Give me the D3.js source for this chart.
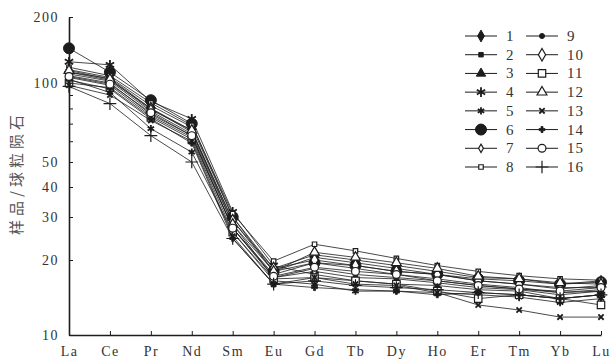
<!DOCTYPE html>
<html>
<head>
<meta charset="utf-8">
<script src="https://cdn.jsdelivr.net/npm/d3@7"></script>
<style>
  body { margin: 0; background: #fff; }
  svg { display: block; }
</style>
</head>
<body>
<div id="chart"></div>
<script>
// REE elements on the x axis
const elements = ["La", "Ce", "Pr", "Nd", "Sm", "Eu", "Gd", "Tb", "Dy", "Ho", "Er", "Tm", "Yb", "Lu"];

// chondrite-normalised values, one array per sample
const s1  = [112, 105, 80, 66, 29, 18, 20.5, 19.5, 18.5, 17.5, 16.5, 16, 15.5, 15.5];
const s2  = [108, 100, 76, 63, 27, 17.5, 19.5, 18.5, 17.5, 16.8, 16, 15.5, 14.8, 15];
const s3  = [115, 106, 82, 68, 30, 18.5, 21, 20, 19, 18, 17, 16.8, 16, 16.5];
const s4  = [125, 121, 85, 73, 31.5, 19, 17.5, 16.5, 16, 15.8, 15.2, 15, 14, 14.5];
const s5  = [104, 92, 67, 54.5, 26, 16.5, 16, 15, 15, 14.8, 14.5, 14.2, 13.5, 14];
const s6  = [144, 112, 86, 70, 30, 18, 19.5, 19, 18, 17.5, 16.8, 16.5, 16, 16.3];
const s7  = [110, 102, 78, 64, 28, 17, 18, 17, 16.8, 16.2, 15.5, 15.2, 14.5, 15];
const s8  = [118, 108, 84, 69, 31, 19.8, 23.2, 21.8, 20.3, 19, 18, 17.3, 16.8, 16.6];
const s9  = [106, 98, 75, 62, 27, 17, 18.5, 17.5, 17, 16.5, 15.8, 15.3, 14.8, 15.2];
const s10 = [112, 103, 80, 65, 29, 18.5, 20, 19, 18, 17.5, 16.5, 16, 15.3, 15.8];
const s11 = [100, 96, 74, 61, 26, 16.8, 17, 16.5, 16, 15, 14, 14.5, 14, 13.2];
const s12 = [114, 104, 79, 66, 28, 18, 21.5, 20.5, 19.5, 18.5, 17.2, 16.8, 16.2, 16];
const s13 = [98, 90, 72, 60, 25, 16, 17, 16, 15.8, 14.8, 13.2, 12.6, 11.8, 11.8];
const s14 = [103, 95, 73, 59, 24.5, 16, 15.5, 15.2, 15, 14.5, 14.8, 14.5, 14, 14.5];
const s15 = [107, 99, 77, 63, 27, 17.2, 18.7, 18, 17.5, 16.5, 15.8, 15.3, 15, 15.5];
const s16 = [97, 83.5, 63, 50, 24.5, 16, 16.5, 15.8, 15.5, 15.2, 14.8, 14.5, 14, 14.5];

const seriesNames = ["1", "2", "3", "4", "5", "6", "7", "8", "9", "10", "11", "12", "13", "14", "15", "16"];
const seriesValues = [s1, s2, s3, s4, s5, s6, s7, s8, s9, s10, s11, s12, s13, s14, s15, s16];

// y axis ticks
const yTickValues = [10, 20, 30, 40, 50, 60, 70, 80, 90, 100, 200];
const yLabelValues = [10, 20, 30, 40, 50, 100, 200];
const yLabel = "样品/球粒陨石";

const width = 613, height = 360;
const ink = "#1c1c1c";

// marker style per sample: symbol type, size, filled or not, stroke width
const markers = [
  { type: d3.symbolDiamond,  size: 40, fill: true,  sw: 1 },
  { type: d3.symbolSquare,   size: 20, fill: true,  sw: 1 },
  { type: d3.symbolTriangle, size: 38, fill: true,  sw: 1 },
  { type: d3.symbolAsterisk, size: 65, fill: false, sw: 1.8 },
  { type: d3.symbolAsterisk, size: 38, fill: false, sw: 1.8 },
  { type: d3.symbolCircle,   size: 95, fill: true,  sw: 1 },
  { type: d3.symbolDiamond,  size: 20, fill: false, sw: 1.2 },
  { type: d3.symbolSquare,   size: 20, fill: false, sw: 1.2 },
  { type: d3.symbolCircle,   size: 20, fill: true,  sw: 1 },
  { type: d3.symbolDiamond,  size: 45, fill: false, sw: 1.2 },
  { type: d3.symbolSquare,   size: 55, fill: false, sw: 1.2 },
  { type: d3.symbolTriangle, size: 42, fill: false, sw: 1.2 },
  { type: d3.symbolTimes,    size: 20, fill: false, sw: 1.8 },
  { type: d3.symbolCross,    size: 20, fill: true,  sw: 0.8 },
  { type: d3.symbolCircle,   size: 48, fill: false, sw: 1.2 },
  { type: d3.symbolPlus,     size: 55, fill: false, sw: 1.2 }
];
const strokeSymbols = [d3.symbolAsterisk, d3.symbolTimes, d3.symbolPlus];

const svg = d3.select("#chart")
  .append("svg")
    .attr("width", width)
    .attr("height", height);

const x = d3.scalePoint(elements, [69, 601]);

// the scanned axis is slightly uneven, so the log scale is pinned at each labelled tick
const y = d3.scaleLog()
  .domain([10, 20, 30, 40, 50, 100, 200])
  .range([335, 260, 217, 187, 162, 83, 17]);

const symbolPath = (m) => d3.symbol().type(m.type).size(m.size)();

function styleMarker(sel, m) {
  const isStroke = strokeSymbols.includes(m.type);
  sel.attr("d", symbolPath(m))
    .attr("fill", isStroke ? "none" : (m.fill ? ink : "#fff"))
    .attr("stroke", ink)
    .attr("stroke-width", m.sw);
}

// axes
const yAxis = d3.axisLeft(y)
  .tickValues(yTickValues)
  .tickSizeInner(-4)
  .tickSizeOuter(0)
  .tickPadding(10)
  .tickFormat(d => yLabelValues.includes(d) ? d : "");

svg.append("g")
    .attr("class", "yAxis")
    .attr("transform", "translate(69, 0)")
    .call(yAxis)
  .call(g => g.select(".domain").attr("stroke", ink).attr("stroke-width", 1.6))
  .call(g => g.selectAll(".tick line").attr("stroke", ink))
  .selectAll("text")
    .attr("font-family", "'Liberation Serif', serif")
    .attr("font-size", 14)
    .attr("letter-spacing", 1.5)
    .attr("fill", "#333");

const xAxis = d3.axisBottom(x)
  .tickSizeInner(-4)
  .tickSizeOuter(0)
  .tickPadding(11);

svg.append("g")
    .attr("class", "xAxis")
    .attr("transform", "translate(0, 335)")
    .call(xAxis)
  .call(g => g.select(".domain").attr("stroke", ink).attr("stroke-width", 1.6))
  .call(g => g.selectAll(".tick line").attr("stroke", ink))
  .selectAll("text")
    .attr("font-family", "'Liberation Serif', serif")
    .attr("font-size", 14)
    .attr("letter-spacing", 1.5)
    .attr("fill", "#333");

svg.append("text")
  .attr("transform", "translate(22, 173) rotate(-90)")
  .attr("text-anchor", "middle")
  .attr("font-family", "'Noto Sans CJK SC', sans-serif")
  .attr("font-size", 15)
  .attr("letter-spacing", 4)
  .attr("fill", "#555")
  .text(yLabel);

// lines and markers
const line = d3.line()
  .x((d, i) => x(elements[i]))
  .y(d => y(d));

const content = svg.append("g").attr("class", "content");

seriesValues.forEach((vals, k) => {
  const g = content.append("g").attr("class", "series");
  g.append("path")
    .attr("d", line(vals))
    .attr("fill", "none")
    .attr("stroke", ink)
    .attr("stroke-width", 0.8);

  g.selectAll("path.marker")
    .data(vals)
    .join("path")
      .attr("class", "marker")
      .attr("transform", (d, i) => `translate(${x(elements[i])}, ${y(d)})`)
      .call(styleMarker, markers[k]);
});

// legend: two columns of eight
const legendRow = d3.scalePoint(d3.range(8), [36, 167]);
const legendCol = [465, 526];

const legend = svg.append("g").attr("class", "legend");

seriesNames.forEach((name, k) => {
  const col = Math.floor(k / 8), row = k % 8;
  const lx = legendCol[col], ly = legendRow(row);
  const item = legend.append("g").attr("transform", `translate(${lx}, ${ly})`);

  item.append("line")
    .attr("x1", 0).attr("x2", 32)
    .attr("y1", 0).attr("y2", 0)
    .attr("stroke", ink)
    .attr("stroke-width", 1);

  item.append("path")
    .attr("transform", "translate(16, 0)")
    .call(styleMarker, markers[k]);

  item.append("text")
    .attr("x", 41)
    .attr("y", 0)
    .attr("dominant-baseline", "central")
    .attr("font-family", "'Liberation Serif', serif")
    .attr("font-size", 15)
    .attr("letter-spacing", 1)
    .attr("fill", "#333")
    .text(name);
});
</script>
</body>
</html>
